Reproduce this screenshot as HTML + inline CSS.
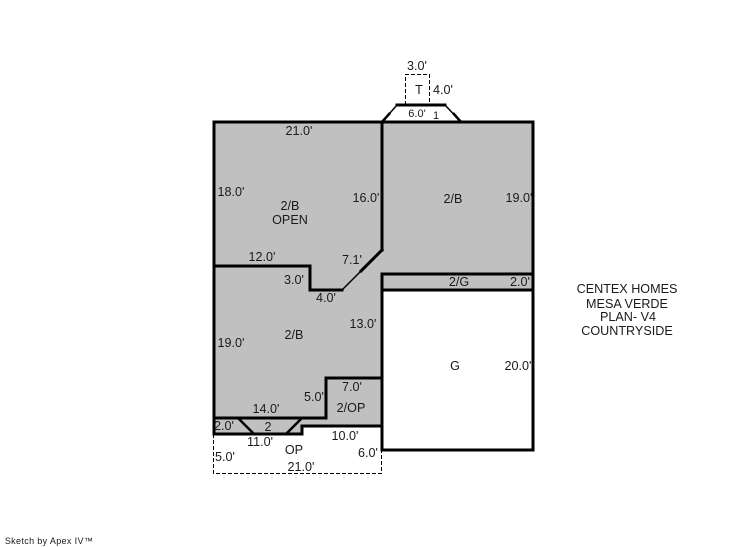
<!DOCTYPE html>
<html>
<head>
<meta charset="utf-8">
<style>
html,body{margin:0;padding:0;background:#fff;}
svg{display:block;}
text{font-family:"Liberation Sans",sans-serif;font-size:12.6px;fill:#1a1a1a;text-anchor:middle;}
</style>
</head>
<body>
<svg width="746" height="547" viewBox="0 0 746 547" xmlns="http://www.w3.org/2000/svg">
<!-- grey fills -->
<path d="M214 122H533V274H382V426H302V434H214Z" fill="#c0c0c0"/>
<rect x="382" y="274" width="151" height="16" fill="#c0c0c0"/>
<!-- dashed -->
<g fill="none" stroke="#000" stroke-width="1" stroke-dasharray="4 2">
<path d="M405.5 105V74.5H429.5V105"/>
<path d="M213.5 434V473.5H381.5V450"/>
</g>
<!-- thick walls -->
<g fill="none" stroke="#000" stroke-width="3" stroke-linecap="square">
<path d="M214 122H533V450H382V274"/>
<path d="M382 122V250"/>
<path d="M214 122V434H302V426H382"/>
<path d="M214 266H310V290H342"/>
<path d="M382 250L361 271"/>
<path d="M382 274H533M382 290H533"/>
<path d="M382 378H326V418H214"/>
<path d="M397 105H445"/>
</g>
<!-- diagonals -->
<g fill="none" stroke="#000" stroke-width="1.5">
<path d="M361 271L342 290"/>
<path d="M397 105L382 122"/>
<path d="M445 105L461 122"/>
</g>
<g fill="none" stroke="#000" stroke-width="2.5">
<path d="M390 113L382 122"/>
<path d="M453 113L461 122"/>
<path d="M238 418L254 434"/>
<path d="M302 418L286 434"/>
</g>
<!-- labels -->
<text x="417" y="70">3.0'</text>
<text x="419" y="94">T</text>
<text x="443" y="94">4.0'</text>
<text x="417" y="117" style="font-size:11px">6.0'</text>
<text x="436" y="119" style="font-size:11px">1</text>
<text x="299" y="135">21.0'</text>
<text x="231" y="196">18.0'</text>
<text x="366" y="202">16.0'</text>
<text x="290" y="210">2/B</text>
<text x="290" y="224">OPEN</text>
<text x="453" y="203">2/B</text>
<text x="519" y="202">19.0'</text>
<text x="262" y="261">12.0'</text>
<text x="352" y="264">7.1'</text>
<text x="294" y="284">3.0'</text>
<text x="326" y="302">4.0'</text>
<text x="459" y="286">2/G</text>
<text x="520" y="286">2.0'</text>
<text x="363" y="328">13.0'</text>
<text x="294" y="339">2/B</text>
<text x="231" y="347">19.0'</text>
<text x="455" y="370">G</text>
<text x="518" y="370">20.0'</text>
<text x="352" y="391">7.0'</text>
<text x="314" y="401">5.0'</text>
<text x="351" y="412">2/OP</text>
<text x="266" y="413">14.0'</text>
<text x="224" y="430">2.0'</text>
<text x="268" y="431">2</text>
<text x="260" y="446">11.0'</text>
<text x="345" y="440">10.0'</text>
<text x="294" y="454">OP</text>
<text x="368" y="457">6.0'</text>
<text x="225" y="461">5.0'</text>
<text x="301" y="471">21.0'</text>
<text x="627" y="293">CENTEX HOMES</text>
<text x="627" y="308">MESA VERDE</text>
<text x="628" y="321">PLAN- V4</text>
<text x="627" y="335">COUNTRYSIDE</text>
<text x="49" y="544" style="font-size:9px;letter-spacing:0.35px;">Sketch by Apex IV™</text>
</svg>
</body>
</html>
